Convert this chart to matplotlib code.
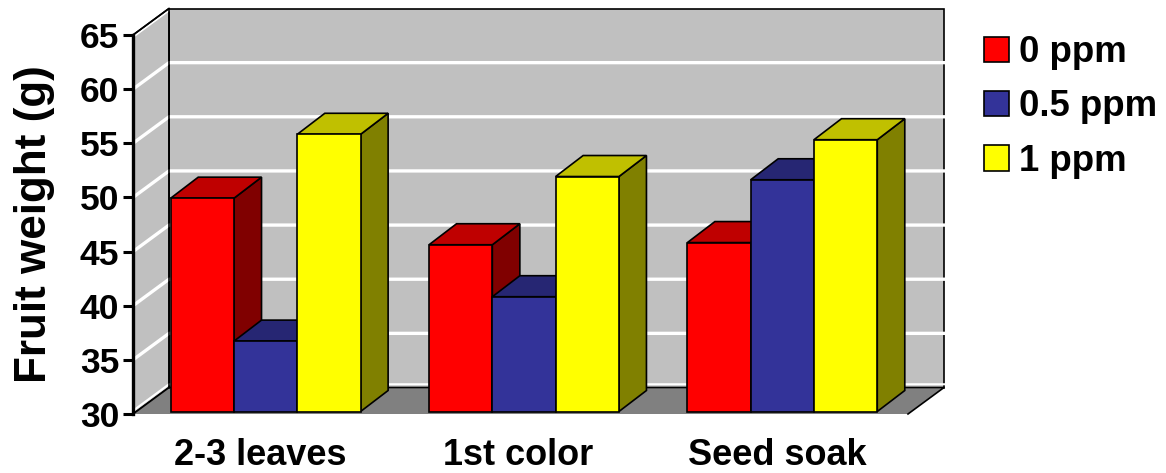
import matplotlib
matplotlib.use("Agg")
import matplotlib.pyplot as plt
from matplotlib.patches import Patch, Polygon
from matplotlib.transforms import ScaledTranslation
import numpy as np

plt.rcParams['font.family'] = ['Liberation Sans', 'DejaVu Sans']
plt.rcParams['font.weight'] = 'bold'

categories = ['2-3 leaves', '1st color', 'Seed soak']
series_names = ['0 ppm', '0.5 ppm', '1 ppm']
v_0ppm = [49.7, 45.4, 45.6]
v_05ppm = [36.5, 40.6, 51.4]
v_1ppm = [55.6, 51.7, 55.1]
yticks = [30, 35, 40, 45, 50, 55, 60, 65]

front = ['#ff0000', '#333399', '#ffff00']
top = ['#bf0000', '#262673', '#c0c000']
side = ['#800000', '#1a1a4d', '#808000']

W, H = 1166, 473
fig = plt.figure(figsize=(W / 100, H / 100), dpi=100)
# front plane of the fake 3d box, pixels from the top left
left, right, ytop, ybot = 133, 908, 35, 414
ax = fig.add_axes([left / W, 1 - ybot / H, (right - left) / W, (ybot - ytop) / H])
ax.set_xlim(0, 3)
ax.set_ylim(30, 65)

# pixel -> data sizes
px = 3 / (right - left)
py = 35 / (ybot - ytop)
box_dx, box_dy = 36 * px, 26.5 * py
bar_dx, bar_dy = 27.5 * px, 21 * py
shift_x, shift_y = 3.5 * px, 2.5 * py
bar_w = 63.3 * px


def poly(pts, fc, ec='black', lw=1.2, z=1):
    ax.add_patch(Polygon(pts, closed=True, facecolor=fc, edgecolor=ec, linewidth=lw,
                         zorder=z, clip_on=False, joinstyle='miter'))


# walls and floor
poly([(box_dx, 30 + box_dy), (3 + box_dx, 30 + box_dy), (3 + box_dx, 65 + box_dy), (box_dx, 65 + box_dy)], '#c0c0c0')
poly([(0, 30), (box_dx, 30 + box_dy), (box_dx, 65 + box_dy), (0, 65)], '#c0c0c0')
poly([(0, 30), (3, 30), (3 + box_dx, 30 + box_dy), (box_dx, 30 + box_dy)], '#808080', ec='none', lw=0)

# gridlines
for t in yticks:
    if t == 65:
        # only a thin white edge under the black top of the side wall
        ax.plot([0, box_dx], [t - 0.2, t + box_dy - 0.2], color='white', lw=1.2, zorder=1.2, clip_on=False)
    elif t == 30:
        ax.plot([0, box_dx, 3 + box_dx], [t + 0.3, t + box_dy + 0.3, t + box_dy + 0.3], color='white',
                lw=1.5, zorder=1.2, clip_on=False)
    else:
        ax.plot([0, box_dx, 3 + box_dx], [t, t + box_dy, t + box_dy], color='white',
                lw=2.4, zorder=1.2, clip_on=False, solid_joinstyle='miter')
ax.plot([box_dx, box_dx], [30 + box_dy, 65 + box_dy], color='black', lw=1.2, zorder=1.3, clip_on=False)
ax.plot([0, box_dx], [65, 65 + box_dy], color='black', lw=1.2, zorder=1.3, clip_on=False)
ax.plot([0, box_dx, 3 + box_dx, 3], [30, 30 + box_dy, 30 + box_dy, 30], color='black', lw=1.2,
        zorder=1.5, clip_on=False)

# bars, left to right so the later fronts hide the earlier sides
values = [v_0ppm, v_05ppm, v_1ppm]
z = 2.0
for g in range(len(categories)):
    for s in range(len(series_names)):
        v = values[s][g] + shift_y
        base = 30 + shift_y
        x0 = g + 0.5 + shift_x + (s - 1.5) * bar_w
        x1 = x0 + bar_w
        poly([(x1, base), (x1 + bar_dx, base + bar_dy), (x1 + bar_dx, v + bar_dy), (x1, v)], side[s], z=z)
        poly([(x0, v), (x1, v), (x1 + bar_dx, v + bar_dy), (x0 + bar_dx, v + bar_dy)], top[s], z=z + 0.1)
        ax.bar(x0, v - base, width=bar_w, bottom=base, align='edge', color=front[s],
               edgecolor='black', linewidth=1.2, zorder=z + 0.2, clip_on=False)
        z += 0.5

# axes
for name in ['top', 'right', 'bottom']:
    ax.spines[name].set_visible(False)
ax.patch.set_visible(False)
ax.spines['left'].set_linewidth(2.4)
ax.spines['left'].set_zorder(20)
ax.set_yticks(yticks)
ax.tick_params(axis='y', length=7, width=2.2, labelsize=25.5, pad=3)
ax.set_xticks(np.arange(len(categories)) + 0.5)
ax.set_xticklabels(categories, fontsize=26, fontweight='bold')
ax.tick_params(axis='x', length=0, pad=17)
for lab in ax.get_xticklabels():
    lab.set_transform(lab.get_transform() + ScaledTranslation(-2 / 100, 0, fig.dpi_scale_trans))
ax.set_ylabel('Fruit weight (g)', fontsize=31.7, fontweight='bold', labelpad=18)

handles = [Patch(facecolor=c, edgecolor='black', linewidth=1.2) for c in front]
ax.legend(handles, series_names, loc='upper left', bbox_to_anchor=(984 / W, 1 - 35 / H),
          bbox_transform=fig.transFigure, frameon=False, fontsize=26.4, borderpad=0, borderaxespad=0,
          handlelength=0.682, handleheight=0.682, handletextpad=0.27, labelspacing=0.53)

fig.savefig('out.png', dpi=100)
